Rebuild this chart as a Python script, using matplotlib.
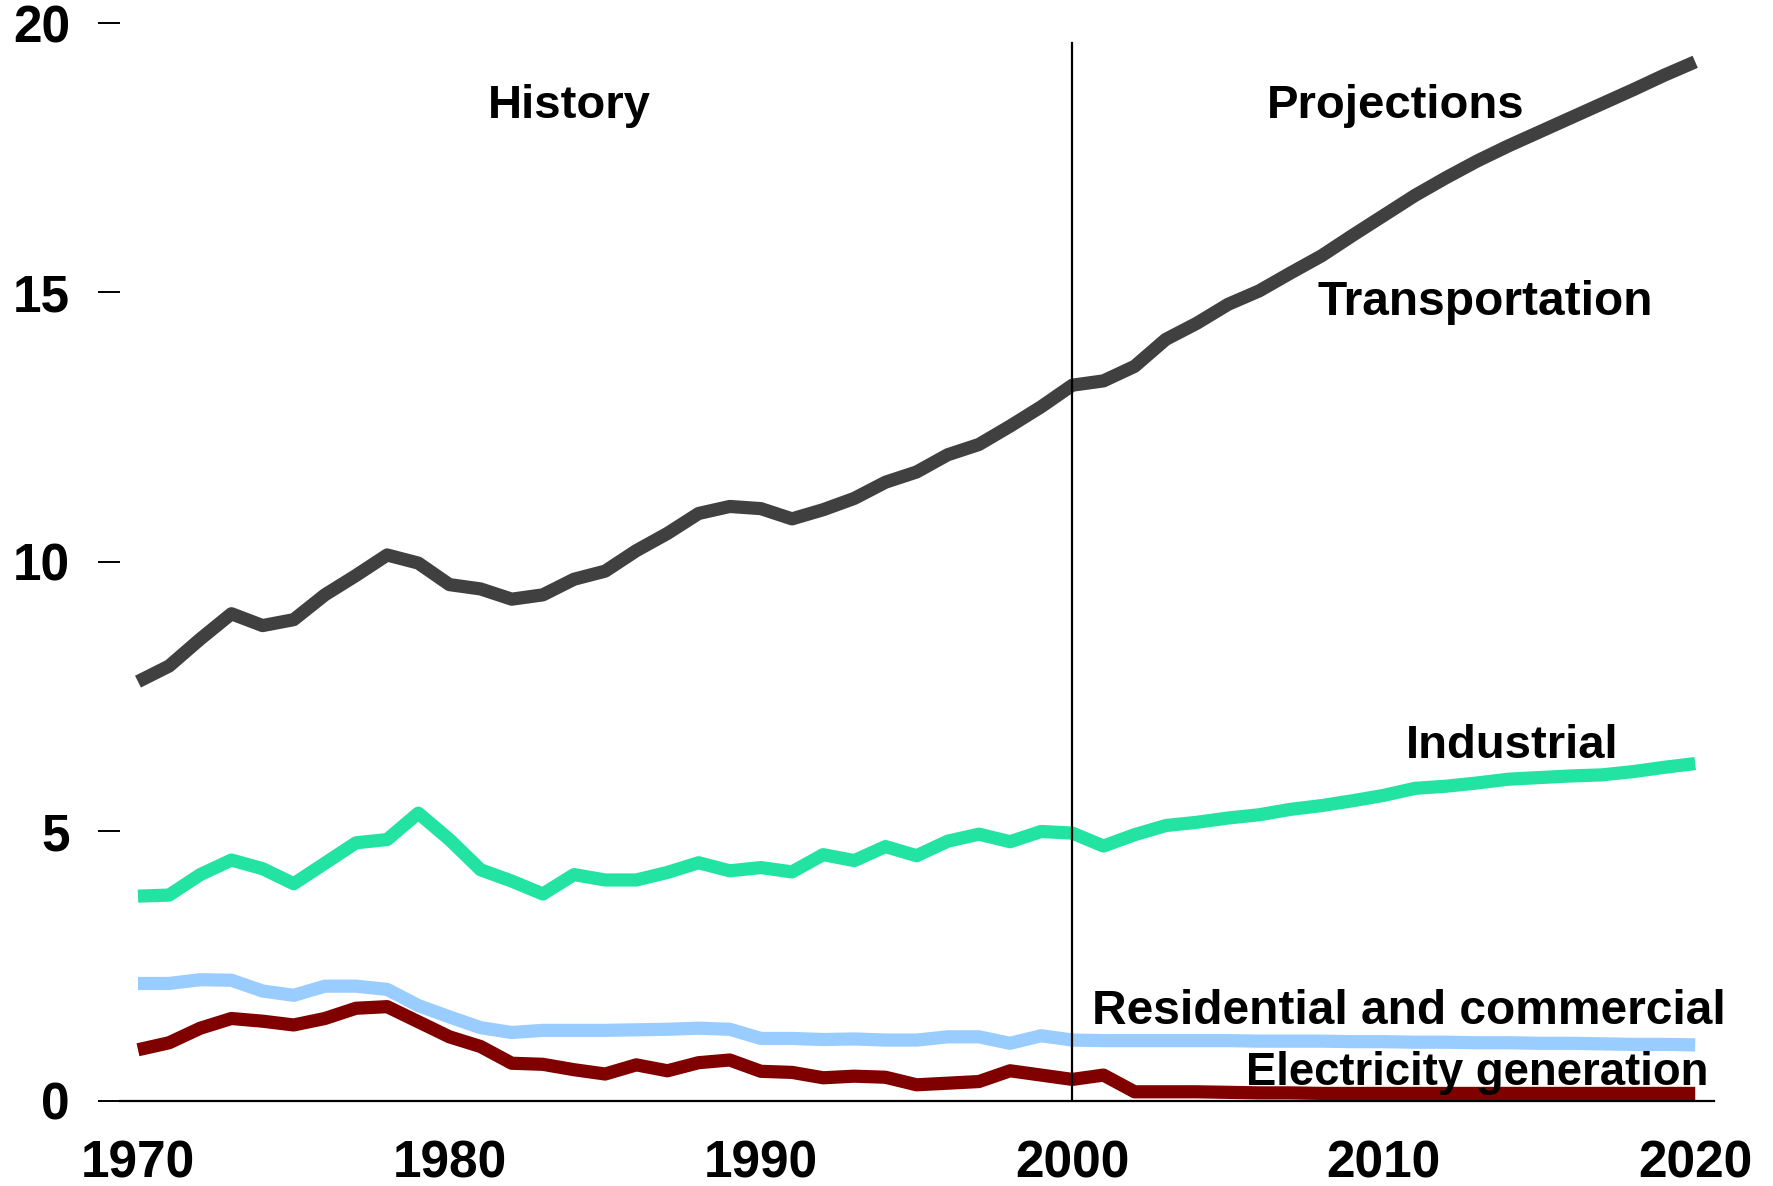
import numpy as np
import matplotlib
matplotlib.use("Agg")
import matplotlib.pyplot as plt

plt.rcParams['font.family'] = ['Liberation Sans', 'DejaVu Sans']
plt.rcParams['font.weight'] = 'bold'

years = np.arange(1970, 2021)

transportation = [7.78, 8.07, 8.57, 9.04, 8.82, 8.93, 9.39, 9.75, 10.13, 9.98,
                  9.58, 9.50, 9.31, 9.39, 9.68, 9.83, 10.21, 10.53, 10.90, 11.03,
                  10.99, 10.80, 10.97, 11.18, 11.48, 11.67, 11.99, 12.18, 12.52, 12.88,
                  13.28, 13.36, 13.63, 14.13, 14.43, 14.78, 15.03, 15.36, 15.68, 16.06,
                  16.43, 16.80, 17.13, 17.44, 17.72, 17.98, 18.24, 18.50, 18.76, 19.03,
                  19.28]
industrial = [3.80, 3.82, 4.20, 4.47, 4.31, 4.03, 4.41, 4.79, 4.85, 5.34,
              4.85, 4.29, 4.08, 3.84, 4.20, 4.10, 4.10, 4.24, 4.42, 4.27,
              4.33, 4.25, 4.57, 4.46, 4.72, 4.55, 4.82, 4.95, 4.81, 5.00,
              4.97, 4.73, 4.94, 5.11, 5.17, 5.25, 5.31, 5.41, 5.48, 5.57,
              5.67, 5.80, 5.84, 5.90, 5.97, 6.00, 6.03, 6.05, 6.11, 6.19,
              6.26]
residential = [2.18, 2.18, 2.25, 2.24, 2.04, 1.96, 2.13, 2.13, 2.07, 1.77,
               1.56, 1.36, 1.27, 1.31, 1.31, 1.31, 1.32, 1.33, 1.35, 1.33,
               1.16, 1.16, 1.14, 1.15, 1.13, 1.13, 1.19, 1.19, 1.07, 1.21,
               1.13, 1.12, 1.12, 1.12, 1.12, 1.12, 1.11, 1.11, 1.11, 1.10,
               1.10, 1.09, 1.09, 1.08, 1.08, 1.07, 1.07, 1.06, 1.05, 1.05,
               1.04]
electricity = [0.95, 1.08, 1.35, 1.53, 1.48, 1.41, 1.53, 1.72, 1.75, 1.47,
               1.19, 1.01, 0.70, 0.68, 0.58, 0.50, 0.67, 0.56, 0.71, 0.76,
               0.55, 0.53, 0.43, 0.46, 0.44, 0.30, 0.33, 0.36, 0.56, 0.48,
               0.40, 0.48, 0.17, 0.17, 0.17, 0.16, 0.15, 0.15, 0.14, 0.14,
               0.14, 0.14, 0.14, 0.14, 0.14, 0.14, 0.14, 0.14, 0.14, 0.14,
               0.14]

fig = plt.figure(figsize=(17.74, 11.86), dpi=100)
ax = fig.add_axes([0.0676, 0.0717, 0.8987, 0.9089])

lw = 9.5
ax.plot(years, transportation, color='#404040', lw=lw, solid_capstyle='butt')
ax.plot(years, industrial, color='#22E3A2', lw=lw, solid_capstyle='butt')
ax.plot(years, residential, color='#99CCFF', lw=lw, solid_capstyle='butt')
ax.plot(years, electricity, color='#800000', lw=lw, solid_capstyle='butt')

# history / projections divider
ax.plot([2000, 2000], [0, 19.63], color='black', lw=1.6, zorder=5)

ax.set_xlim(1969.42, 2020.61)
ax.set_ylim(0, 20)

fs = 34
ax.text(1983.84, 18.23, 'History', ha='center', va='baseline', fontsize=fs, fontweight='bold')
ax.text(2010.39, 18.23, 'Projections', ha='center', va='baseline', fontsize=fs, fontweight='bold')
ax.text(2013.27, 14.58, 'Transportation', ha='center', va='baseline', fontsize=34.5, fontweight='bold')
ax.text(2014.13, 6.36, 'Industrial', ha='center', va='baseline', fontsize=fs, fontweight='bold')
ax.text(2010.8, 1.43, 'Residential and commercial', ha='center', va='baseline',
        fontsize=34.5, fontweight='bold', clip_on=False)
ax.text(2013.0, 0.30, 'Electricity generation', ha='center', va='baseline',
        fontsize=32.8, fontweight='bold', zorder=6)

for s in ['left', 'top', 'right']:
    ax.spines[s].set_visible(False)
ax.spines['bottom'].set_linewidth(1.6)

ax.set_xticks([1970, 1980, 1990, 2000, 2010, 2020])
ax.set_yticks([0, 5, 10, 15, 20])
ax.tick_params(axis='x', length=0, pad=28, labelsize=37)
ax.tick_params(axis='y', length=16, width=1.4, pad=20, labelsize=37)
for lab in ax.get_xticklabels() + ax.get_yticklabels():
    lab.set_fontweight('bold')

fig.savefig('out.png', dpi=100)
